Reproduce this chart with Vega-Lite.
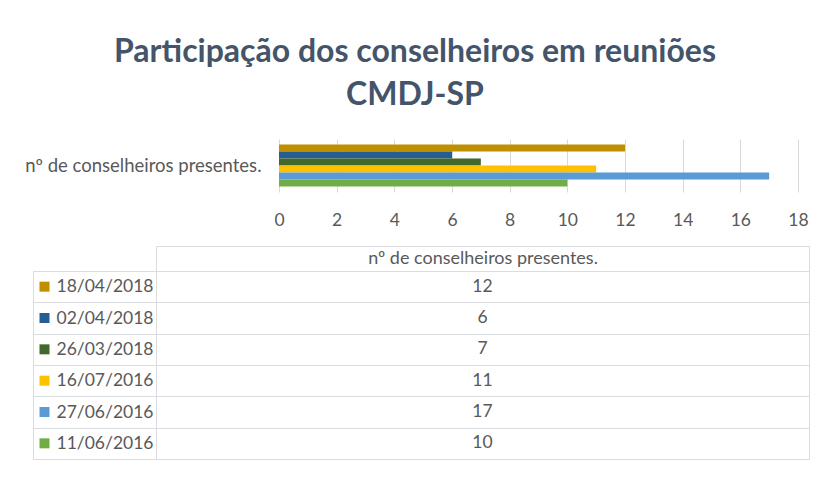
{
  "$schema": "https://vega.github.io/schema/vega-lite/v6.json",
  "background": "white",
  "padding": {"left": 20, "top": 36, "right": 10, "bottom": 10},
  "title": {
    "text": ["Participação dos conselheiros em reuniões", "CMDJ-SP"],
    "anchor": "middle",
    "font": "Lato",
    "fontSize": 32,
    "fontWeight": "bold",
    "color": "#44546A",
    "lineHeight": 43,
    "offset": 27
  },
  "config": {"font": "Lato"},
  "data": {
    "values": [
      {"date": "18/04/2018", "measure": "nº de conselheiros presentes.", "value": 12},
      {"date": "02/04/2018", "measure": "nº de conselheiros presentes.", "value": 6},
      {"date": "26/03/2018", "measure": "nº de conselheiros presentes.", "value": 7},
      {"date": "16/07/2016", "measure": "nº de conselheiros presentes.", "value": 11},
      {"date": "27/06/2016", "measure": "nº de conselheiros presentes.", "value": 17},
      {"date": "11/06/2016", "measure": "nº de conselheiros presentes.", "value": 10}
    ]
  },
  "spacing": 16,
  "columns": 1,
  "align": {"row": "none", "column": "all"},
  "concat": [
    {
      "hconcat": [
        {
          "width": 246,
          "height": 53,
          "view": {"stroke": null},
          "data": {"values": []},
          "mark": {"type": "point", "opacity": 0},
          "encoding": {}
        },
        {
          "width": 519,
          "height": 53,
          "view": {"stroke": null},
          "mark": {"type": "bar"},
          "encoding": {
            "y": {
              "field": "measure",
              "type": "nominal",
              "title": null,
              "scale": {"paddingInner": 0, "paddingOuter": 0.13},
              "axis": {"domain": false, "ticks": false, "labelPadding": 18, "labelFontSize": 18.5, "labelColor": "#595959", "labelLimit": 400}
            },
            "yOffset": {
              "field": "date",
              "type": "nominal",
              "sort": ["18/04/2018", "02/04/2018", "26/03/2018", "16/07/2016", "27/06/2016", "11/06/2016"],
              "scale": {"paddingInner": 0, "paddingOuter": 0}
            },
            "x": {
              "field": "value",
              "type": "quantitative",
              "scale": {"domain": [0, 18], "nice": false},
              "axis": {"title": null, "values": [0, 2, 4, 6, 8, 10, 12, 14, 16, 18], "domain": false, "ticks": false, "labelPadding": 19, "labelFontSize": 17.5, "labelColor": "#595959", "gridColor": "#D9D9D9", "labelFlush": false}
            },
            "color": {
              "field": "date",
              "type": "nominal",
              "scale": {
                "domain": ["18/04/2018", "02/04/2018", "26/03/2018", "16/07/2016", "27/06/2016", "11/06/2016"],
                "range": ["#BF8F00", "#255E91", "#43682B", "#FFC000", "#5B9BD5", "#70AD47"]
              },
              "legend": null
            }
          }
        }
      ],
      "spacing": 0,
      "bounds": "flush"
    },
    {
      "hconcat": [
        {
          "width": 123,
          "height": 188,
          "view": {"stroke": "#D9DCE1"},
          "mark": {"type": "point", "shape": "square", "filled": true, "size": 100, "opacity": 1, "xOffset": -50},
          "encoding": {
            "y": {
              "field": "date",
              "type": "nominal",
              "sort": ["18/04/2018", "02/04/2018", "26/03/2018", "16/07/2016", "27/06/2016", "11/06/2016"],
              "title": null,
              "axis": {"domain": false, "ticks": true, "tickColor": "transparent", "tickSize": 12, "tickBand": "extent", "grid": true, "gridColor": "#D9DCE1", "labelAlign": "left", "labelPadding": -35, "labelFontSize": 17.5, "labelColor": "#595959", "labelBaseline": "middle"}
            },
            "color": {"field": "date", "type": "nominal", "legend": null}
          }
        },
        {
          "width": 653,
          "height": 188,
          "view": {"stroke": "#D9DCE1"},
          "mark": {"type": "text", "fontSize": 17.5, "color": "#595959"},
          "encoding": {
            "y": {
              "field": "date",
              "type": "nominal",
              "sort": ["18/04/2018", "02/04/2018", "26/03/2018", "16/07/2016", "27/06/2016", "11/06/2016"],
              "title": null,
              "axis": {"domain": false, "ticks": false, "labels": false, "tickBand": "extent", "grid": true, "gridColor": "#D9DCE1"}
            },
            "x": {
              "field": "measure",
              "type": "nominal",
              "title": null,
              "scale": {"paddingInner": 0, "paddingOuter": 0},
              "axis": {"orient": "top", "offset": 25, "domain": true, "domainColor": "#D9DCE1", "ticks": true, "tickBand": "extent", "tickSize": -25, "tickColor": "#D9DCE1", "labelPadding": 12.5, "labelBaseline": "middle", "labelAngle": 0, "labelFontSize": 18, "labelColor": "#595959", "labelLimit": 600, "grid": false}
            },
            "text": {"field": "value", "type": "quantitative"}
          }
        }
      ],
      "spacing": 0,
      "bounds": "flush"
    }
  ]
}
